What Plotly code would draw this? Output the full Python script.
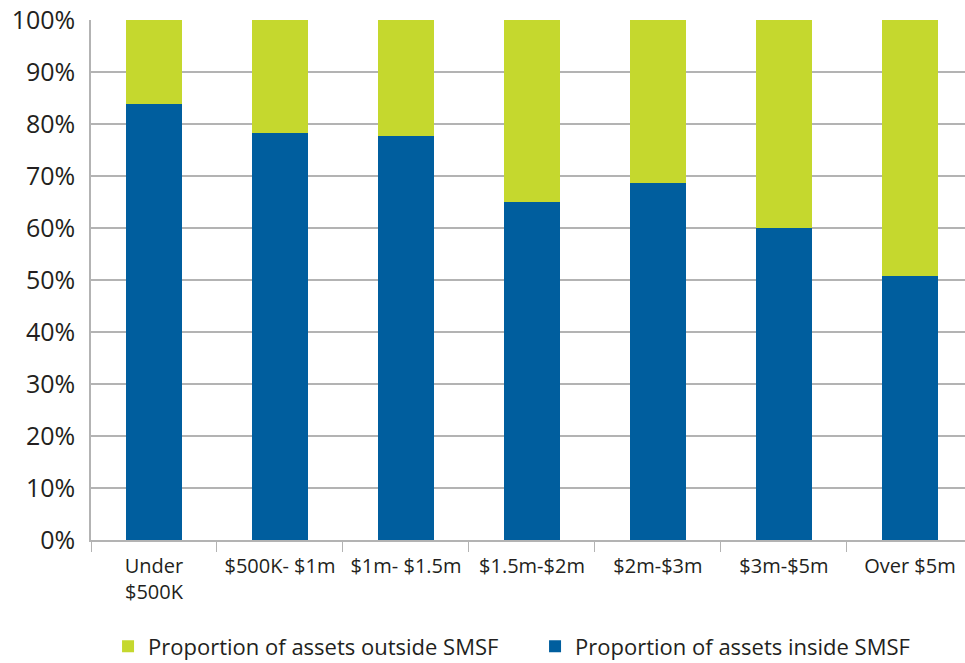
import plotly.graph_objects as go

categories = ["Under<br>$500K", "$500K- $1m", "$1m- $1.5m", "$1.5m-$2m", "$2m-$3m", "$3m-$5m", "Over $5m"]
inside_smsf = [83.9, 78.3, 77.7, 65.0, 68.6, 60.0, 50.7]
outside_smsf = [round(100 - v, 1) for v in inside_smsf]

BLUE = "#005E9E"
GREEN = "#C5D82E"
GRID = "#b3b3b3"
FONT = "Open Sans"
TXT = "#231f20"

fig = go.Figure()
fig.add_trace(go.Bar(x=categories, y=inside_smsf, name="Proportion of assets inside SMSF",
                     marker=dict(color=BLUE, line=dict(width=0)), width=0.45))
fig.add_trace(go.Bar(x=categories, y=outside_smsf, name="Proportion of assets outside SMSF",
                     marker=dict(color=GREEN, line=dict(width=0)), width=0.45))

fig.update_layout(
    width=965, height=663,
    barmode="stack",
    plot_bgcolor="white", paper_bgcolor="white",
    margin=dict(l=91, r=0, t=20, b=123, autoexpand=False),
    font=dict(family=FONT, color=TXT),
    showlegend=True,
    legend=dict(orientation="h", traceorder="reversed", x=0.0195, xanchor="left",
                yref="container", y=0.025, yanchor="middle",
                font=dict(size=22, family=FONT, color=TXT),
                entrywidth=382, entrywidthmode="pixels"),
    xaxis=dict(
        type="category", range=[-0.5, 6.437],
        showgrid=False, showline=True, linecolor=GRID, linewidth=1.5,
        ticks="outside", tickson="boundaries", ticklen=10, tickcolor=GRID, tickwidth=1,
        ticklabelstandoff=7,
        tickfont=dict(size=20, family=FONT, color=TXT),
    ),
    yaxis=dict(
        range=[0, 100], dtick=10, ticksuffix="%",
        showgrid=True, gridcolor=GRID, gridwidth=1.5,
        showline=True, linecolor=GRID, linewidth=1.5,
        zeroline=False, ticks="", ticklabelstandoff=9,
        tickfont=dict(size=25, family=FONT, color=TXT),
    ),
)

fig.write_html("out.html")
